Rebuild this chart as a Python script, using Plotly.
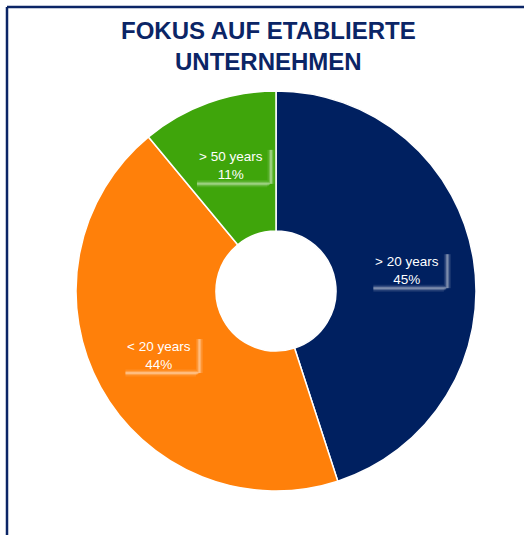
import math
import plotly.graph_objects as go

labels = ['> 20 years', '< 20 years', '> 50 years']
values = [45, 44, 11]
colors = ['#002060', '#FF800A', '#3FA50B']
title_lines = ['FOKUS AUF ETABLIERTE', 'UNTERNEHMEN']

W, H = 524, 535
NAVY = '#0B2566'
FONT = 'Liberation Sans, Arial'

# pie placement in pixels
CX, CY, R = 276, 291, 200
LABEL_R = 0.665

fig = go.Figure()

fig.add_trace(go.Pie(
    labels=labels,
    values=values,
    hole=0.3,
    sort=False,
    direction='clockwise',
    rotation=0,
    marker=dict(colors=colors, line=dict(color='white', width=1.5)),
    textinfo='none',
    hoverinfo='label+percent',
    domain=dict(x=[(CX - R) / W, (CX + R) / W], y=[(H - CY - R) / H, (H - CY + R) / H]),
    showlegend=False,
))


def px(x, y):
    return x / W, 1 - y / H


# labels at mid-angle of each slice, with a soft L-shaped glow like the original
total = sum(values)
cum = 0
for lab, v in zip(labels, values):
    mid = (cum + v / 2) / total * 2 * math.pi
    cum += v
    lx = CX + LABEL_R * R * math.sin(mid)
    ly = CY - LABEL_R * R * math.cos(mid)
    for w, op in [(7, 0.1), (4, 0.18), (2, 0.3)]:
        col = f'rgba(255,255,255,{op})'
        x0, y0 = px(lx + 40, ly - 16)
        x1, y1 = px(lx + 40, ly + 18)
        fig.add_shape(type='line', xref='paper', yref='paper',
                      x0=x0, y0=y0, x1=x1, y1=y1, line=dict(color=col, width=w))
        x0, y0 = px(lx - 34, ly + 18)
        x1, y1 = px(lx + 40 - w / 2, ly + 18)
        fig.add_shape(type='line', xref='paper', yref='paper',
                      x0=x0, y0=y0, x1=x1, y1=y1, line=dict(color=col, width=w))
    ax, ay = px(lx, ly)
    fig.add_annotation(
        text=f'{lab}<br>{v}%', xref='paper', yref='paper', x=ax, y=ay,
        xanchor='center', yanchor='middle', showarrow=False, align='center',
        font=dict(family=FONT, size=13.5, color='white'),
    )

# frame lines (left and top)
fig.add_shape(type='line', xref='paper', yref='paper',
              x0=7 / W, y0=0, x1=7 / W, y1=1 - 7 / H,
              line=dict(color=NAVY, width=2.5))
fig.add_shape(type='line', xref='paper', yref='paper',
              x0=7 / W, y0=1 - 7 / H, x1=1, y1=1 - 7 / H,
              line=dict(color=NAVY, width=2.5))

fig.add_annotation(
    text='<b>' + '<br>'.join(title_lines) + '</b>',
    xref='paper', yref='paper', x=268 / W, y=1 - 46 / H,
    xanchor='center', yanchor='middle', showarrow=False,
    font=dict(family=FONT, size=24, color=NAVY),
)

fig.update_layout(
    width=W, height=H,
    margin=dict(l=0, r=0, t=0, b=0),
    paper_bgcolor='white',
    plot_bgcolor='white',
)

fig.write_html("out.html", config={'displayModeBar': False},
               post_script="document.body.style.margin='0';")
